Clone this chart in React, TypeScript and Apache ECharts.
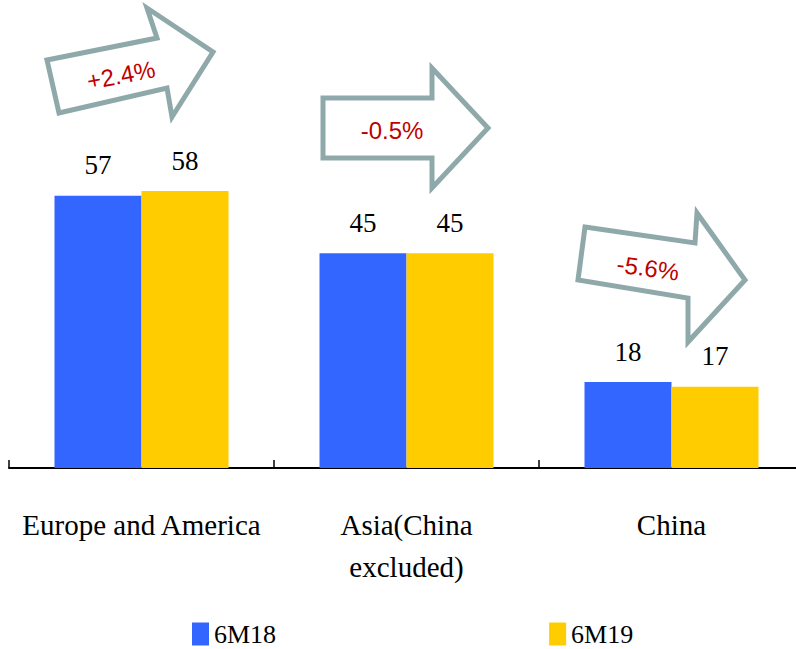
import React, { useEffect, useRef } from "react";
import * as echarts from "echarts";

const categories = ["Europe and America", "Asia(China\nexcluded)", "China"];
const series6M18 = [57, 45, 18];
const series6M19 = [58, 45, 17];
const seriesNames = ["6M18", "6M19"];
const changeLabels = ["+2.4%", "-0.5%", "-5.6%"];

const BLUE = "#3366FF";
const YELLOW = "#FFCC00";
const ARROW = "#8FA9AB";
const RED = "#C00000";
const SERIF = "'Liberation Serif', 'Times New Roman', serif";
const SANS = "'Liberation Sans', Arial, sans-serif";

const arrows = [
  { points: [[47, 60], [157, 38], [147, 8], [213, 52], [172, 117], [167, 88], [59, 113]], tx: 121, ty: 75, rot: 0.19 },
  { points: [[323, 98], [432, 98], [432, 68], [488, 128], [432, 188], [432, 158], [323, 158]], tx: 392, ty: 130, rot: 0 },
  { points: [[585, 227], [695, 243], [697, 213], [745, 280], [688, 342], [688, 298], [578, 280]], tx: 648, ty: 268, rot: -0.14 },
];

export default function App() {
  const ref = useRef<HTMLDivElement>(null);
  useEffect(() => {
    if (!ref.current) return;
    const chart = echarts.init(ref.current, undefined, { renderer: "svg" });
    const graphic: any[] = [];
    arrows.forEach((a, i) => {
      graphic.push({
        type: "polygon",
        shape: { points: a.points },
        style: { fill: "#fff", stroke: ARROW, lineWidth: 5, lineJoin: "miter" },
        z: 10,
      });
      graphic.push({
        type: "text",
        x: a.tx,
        y: a.ty,
        rotation: a.rot,
        style: {
          text: changeLabels[i],
          fill: RED,
          fontSize: 24,
          fontFamily: SANS,
          align: "center",
          verticalAlign: "middle",
        },
        z: 11,
      });
    });
    const label = {
      show: true,
      position: "top" as const,
      distance: 17,
      fontSize: 27,
      fontFamily: SERIF,
      color: "#000",
    };
    chart.setOption({
      animation: false,
      grid: { left: 9, width: 795, top: 86, bottom: 181, outerBoundsMode: "none", containLabel: false },
      legend: {
        data: seriesNames,
        left: 187,
        top: 615,
        icon: "rect",
        itemWidth: 17,
        itemHeight: 23,
        itemGap: 273,
        textStyle: { fontSize: 26, fontFamily: SERIF, color: "#000", lineHeight: 28 },
      },
      xAxis: {
        type: "category",
        data: categories,
        axisLine: { show: true, lineStyle: { color: "#000", width: 2 } },
        axisTick: { show: true, inside: true, length: 8, lineStyle: { color: "#000", width: 1.5 } },
        axisLabel: {
          interval: 0,
          margin: 36,
          fontSize: 29,
          lineHeight: 42,
          fontFamily: SERIF,
          color: "#000",
          verticalAlign: "top",
        },
      },
      yAxis: {
        type: "value",
        min: 0,
        max: 80,
        show: false,
        splitLine: { show: false },
      },
      series: [
        {
          name: seriesNames[0],
          type: "bar",
          data: series6M18,
          barWidth: 87,
          barGap: "0%",
          itemStyle: { color: BLUE },
          label,
        },
        {
          name: seriesNames[1],
          type: "bar",
          data: series6M19,
          barWidth: 87,
          barGap: "0%",
          itemStyle: { color: YELLOW },
          label,
        },
      ],
      graphic,
    });
    return () => chart.dispose();
  }, []);
  return <div ref={ref} style={{ width: 796, height: 649, position: "absolute", left: 0, top: 0 }} />;
}
